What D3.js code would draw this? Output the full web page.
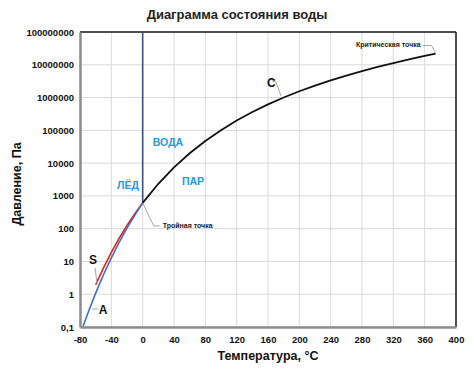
<!DOCTYPE html>
<html>
<head>
<meta charset="utf-8">
<script src="https://cdn.jsdelivr.net/npm/d3@7"></script>
<style>
  body { margin: 0; background: #fff; }
  text { font-family: "Liberation Sans", Arial, sans-serif; }
</style>
</head>
<body>
<div id="chart"></div>
<script>
// vapour pressure of liquid water, C curve (°C, Pa)
const vapourT = [0.01, 20, 40, 60, 80, 100, 120, 140, 160, 180, 200, 220, 240, 260, 280, 300, 320, 340, 360, 374];
const vapourP = [611, 2339, 7384, 19946, 47415, 101325, 198670, 361500, 618100, 1002800, 1554900, 2319600, 3346900, 4692300, 6416600, 8587900, 11284000, 14601000, 18666000, 22064000];

// sublimation of ice, A curve
const iceT = [-76, -70, -60, -50, -40, -30, -20, -10, 0.01];
const iceP = [0.105, 0.261, 1.08, 3.94, 12.84, 38.0, 103.3, 259.9, 611];

// supercooled water, S curve
const superT = [-60, -50, -40, -30, -20, -10, 0.01];
const superP = [1.95, 6.36, 18.9, 51.0, 125.6, 286.5, 611];

// melting line
const meltT = [0.01, 0];
const meltP = [611, 1e8];

const xTicks = [-80, -40, 0, 40, 80, 120, 160, 200, 240, 280, 320, 360, 400];
const yTicks = [0.1, 1, 10, 100, 1000, 10000, 100000, 1000000, 10000000, 100000000];

const width = 474, height = 375;
const margin = {top: 32, right: 18, bottom: 48, left: 80};

const svg = d3.select("#chart").append("svg")
  .attr("width", width).attr("height", height);

const x = d3.scaleLinear().domain([-80, 400]).range([margin.left, width - margin.right]);
const y = d3.scaleLog().domain([0.1, 1e8]).range([height - margin.bottom, margin.top]);

svg.append("clipPath").attr("id", "clip")
  .append("rect")
  .attr("x", x(-80)).attr("y", y(1e8))
  .attr("width", x(400) - x(-80)).attr("height", y(0.1) - y(1e8));

// grid
svg.append("g")
  .selectAll("line").data(xTicks).join("line")
  .attr("x1", d => x(d)).attr("x2", d => x(d))
  .attr("y1", y(0.1)).attr("y2", y(1e8))
  .attr("stroke", "#d9d9d9").attr("stroke-width", 1);
svg.append("g")
  .selectAll("line").data(yTicks).join("line")
  .attr("x1", x(-80)).attr("x2", x(400))
  .attr("y1", d => y(d)).attr("y2", d => y(d))
  .attr("stroke", "#d9d9d9").attr("stroke-width", 1);

// frame: top/right dark, left/bottom grey axes
svg.append("line").attr("x1", x(-80)).attr("x2", x(400)).attr("y1", y(1e8)).attr("y2", y(1e8))
  .attr("stroke", "#1a1a1a").attr("stroke-width", 1.5);
svg.append("line").attr("x1", x(400)).attr("x2", x(400)).attr("y1", y(1e8)).attr("y2", y(0.1))
  .attr("stroke", "#1a1a1a").attr("stroke-width", 1.5);

const xAxis = svg.append("g")
  .attr("transform", `translate(0,${y(0.1)})`)
  .call(d3.axisBottom(x).tickValues(xTicks).tickSize(0).tickPadding(9)
    .tickFormat(d => String(d)));
const yAxis = svg.append("g")
  .attr("transform", `translate(${x(-80)},0)`)
  .call(d3.axisLeft(y).tickValues(yTicks).tickSize(0).tickPadding(6)
    .tickFormat(d => d < 1 ? "0,1" : d3.format("d")(d)));

[xAxis, yAxis].forEach(a => {
  a.select(".domain").attr("stroke", "#8c8c8c").attr("stroke-width", 2.5);
  a.selectAll("text").attr("font-size", 9.5).attr("font-weight", "bold")
    .attr("fill", "#111").style("font-family", "'Liberation Sans', Arial, sans-serif");
});

const line = d3.line().x(d => x(d[0])).y(d => y(d[1]));
const plot = svg.append("g").attr("clip-path", "url(#clip)");

plot.append("path").datum(d3.zip(superT, superP))
  .attr("d", line).attr("fill", "none").attr("stroke", "#e3211c").attr("stroke-width", 1.6);
plot.append("path").datum(d3.zip(iceT, iceP))
  .attr("d", line).attr("fill", "none").attr("stroke", "#3f6fc4").attr("stroke-width", 1.6);
plot.append("path").datum(d3.zip(meltT, meltP))
  .attr("d", line).attr("fill", "none").attr("stroke", "#3c4f85").attr("stroke-width", 1.6);
plot.append("path").datum(d3.zip(vapourT, vapourP))
  .attr("d", line).attr("fill", "none").attr("stroke", "#111").attr("stroke-width", 1.8);

// leader lines
const leader = (pts) => svg.append("path")
  .attr("d", d3.line()(pts)).attr("fill", "none")
  .attr("stroke", "#a6a6a6").attr("stroke-width", 1);

const crit = [x(374), y(22064000)];
leader([[crit[0] - 13, crit[1] - 8], [crit[0] - 4, crit[1] - 8], crit]);
const triple = [x(0.01), y(611)];
leader([triple, [triple[0] + 11, triple[1] + 23], [triple[0] + 17, triple[1] + 23]]);
leader([[272, 81], [276, 82], [281, 96]]);
leader([[95, 268], [97, 283]]);
leader([[92, 309], [98, 309]]);

// text
const label = (tx, ty, s, size, fill = "#111", anchor = "start") => svg.append("text")
  .attr("x", tx).attr("y", ty).attr("text-anchor", anchor)
  .attr("dominant-baseline", "middle")
  .attr("font-size", size).attr("font-weight", "bold").attr("fill", fill).text(s);

label(237, 16, "Диаграмма состояния воды", 13, "#222", "middle");
label(crit[0] - 15, crit[1] - 8, "Критическая точка", 7, "#222", "end");
label(triple[0] + 20, triple[1] + 23, "Тройная точка", 7, "#222");
label(267, 84, "C", 12);
label(93, 261, "S", 12, "#111", "middle");
label(103, 311, "A", 12, "#111", "middle");
label(168, 143, "ВОДА", 10.5, "#219bdc", "middle");
label(128, 186, "ЛЁД", 10.5, "#219bdc", "middle");
label(193, 182, "ПАР", 10.5, "#219bdc", "middle");

label(268, 357, "Температура, °C", 12.5, "#111", "middle");
svg.append("text")
  .attr("transform", "translate(18,184) rotate(-90)")
  .attr("text-anchor", "middle").attr("dominant-baseline", "middle")
  .attr("font-size", 12.5).attr("font-weight", "bold").attr("fill", "#111")
  .text("Давление, Па");
</script>
</body>
</html>
